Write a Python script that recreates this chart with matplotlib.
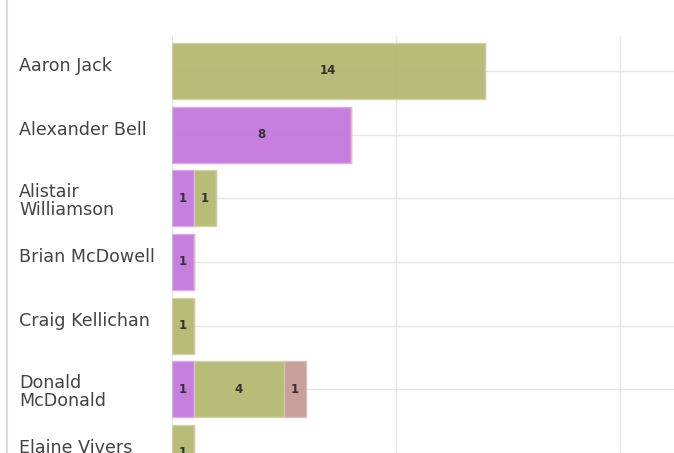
import numpy as np
import matplotlib.pyplot as plt
import matplotlib.transforms as mtransforms
from matplotlib.lines import Line2D

# datos
names = ["Aaron Jack", "Alexander Bell", "Alistair\nWilliamson", "Brian McDowell",
         "Craig Kellichan", "Donald\nMcDonald", "Elaine Vivers"]
purple_vals = [0, 8, 1, 1, 0, 1, 0]
green_vals = [14, 0, 1, 0, 1, 4, 1]
brown_vals = [0, 0, 0, 0, 0, 1, 0]

series = [(purple_vals, "#c171dc", "#d9a6ec"),
          (green_vals, "#b0b669", "#cfd3a4"),
          (brown_vals, "#c3958f", "#dcbdb9")]

fig = plt.figure(figsize=(6.74, 4.53), dpi=100)
ax = fig.add_axes([171.5 / 674, 0, 1 - 171.5 / 674, 1 - 36 / 453])

y = np.arange(len(names))
left = np.zeros(len(names))
for vals, col, edge in series:
    vals = np.array(vals, dtype=float)
    bars = ax.barh(y, vals, left=left, height=0.88, color=col, alpha=0.9,
                   edgecolor=edge, linewidth=1, zorder=2)
    for b, v in zip(bars, vals):
        if v > 0:
            ax.text(b.get_x() + b.get_width() / 2, b.get_y() + b.get_height() / 2,
                    "%d" % v, ha="center", va="center", fontsize=8.5,
                    fontweight="bold", color="#333333", zorder=3)
    left += vals

ax.set_xlim(0, (674 - 171.5) / 22.4)
ax.set_ylim((453 - 71) / 64, -(71 - 36) / 64)
ax.set_xticks([0, 10, 20])
ax.set_yticks(y)
ax.grid(True, color="#e6e6e6", linewidth=1, zorder=0)
ax.set_axisbelow(True)
ax.tick_params(length=0, labelleft=False, labelbottom=False)
for s in ax.spines.values():
    s.set_visible(False)

# etiquetas de nombres
trans = mtransforms.blended_transform_factory(fig.transFigure, ax.transData)
for i, n in enumerate(names):
    off = -3 if "\n" in n else 5
    t = trans + mtransforms.ScaledTranslation(0, off / 100, fig.dpi_scale_trans)
    ax.text(19 / 674, i, n, transform=t, ha="left", va="center", fontsize=12.6,
            color="#444444", linespacing=0.98, clip_on=False)

fig.add_artist(Line2D([7 / 674, 7 / 674], [0, 1], color="#dddddd", linewidth=1.5))

plt.savefig("out.png", dpi=100)
